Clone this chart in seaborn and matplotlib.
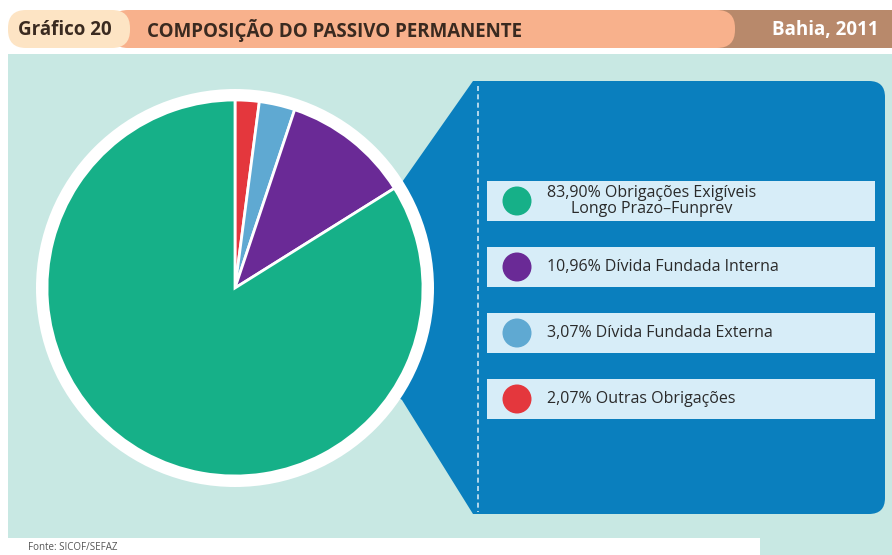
import matplotlib
matplotlib.use("Agg")
import matplotlib.pyplot as plt
import seaborn as sns
from matplotlib.patches import Rectangle, FancyBboxPatch, Circle, Polygon

# ---- data ----
categories = ["Outras Obrigações", "Dívida Fundada Externa", "Dívida Fundada Interna",
              "Obrigações Exigíveis\nLongo Prazo–Funprev"]
values = [2.07, 3.07, 10.96, 83.90]
colors = ["#e4373d", "#5fa9d2", "#6a2a96", "#16b088"]
legend_order = [3, 2, 1, 0]
title = "COMPOSIÇÃO DO PASSIVO PERMANENTE"
chart_no = "Gráfico 20"
place = "Bahia, 2011"
source = "Fonte: SICOF/SEFAZ"

sns.set_theme(style="white")
plt.rcParams["font.family"] = ["Open Sans", "DejaVu Sans"]

W, H = 892, 555
fig = plt.figure(figsize=(W / 100, H / 100), dpi=100)
fig.patch.set_facecolor("white")
ax = fig.add_axes([0, 0, 1, 1])
ax.set_axis_off()

# header
ax.add_patch(Rectangle((715, 10), 177, 38, fc="#b8896b", ec="none", zorder=1))
ax.add_patch(FancyBboxPatch((110, 10), 625, 38, boxstyle="round,pad=0,rounding_size=18",
                            fc="#f8b18c", ec="none", zorder=2))
ax.add_patch(FancyBboxPatch((8, 10), 122, 38, boxstyle="round,pad=0,rounding_size=18",
                            fc="#fde4c4", ec="none", zorder=3))
ax.text(18, 30, chart_no, fontsize=13.5, fontweight="bold", color="#3a2a20",
        va="center", ha="left", zorder=5)
ax.text(147, 30, title, fontsize=13.5, fontweight="bold", color="#3a2a20",
        va="center", ha="left", zorder=5)
ax.text(879, 30, place, fontsize=13.5, fontweight="bold", color="white",
        va="center", ha="right", zorder=5)

# mint background
ax.add_patch(Rectangle((8, 54), 884, 484, fc="#c8e8e3", ec="none", zorder=0))
ax.add_patch(FancyBboxPatch((8, 538), 752, 30, boxstyle="round,pad=0,rounding_size=10",
                            fc="white", ec="none", zorder=0.5))
ax.add_patch(Rectangle((760, 536), 132, 20, fc="#c8e8e3", ec="none", zorder=0.4))
ax.text(28, 547, source, fontsize=7, color="#555555", va="center", ha="left", zorder=5)

# pie geometry
cx, cy, r = 235, 288, 188

# blue panel + connector
blue = "#0a7fbe"
ax.add_patch(FancyBboxPatch((473, 81), 412, 433, boxstyle="round,pad=0,rounding_size=16",
                            fc=blue, ec="none", zorder=1))
ax.add_patch(Rectangle((473, 81), 60, 433, fc=blue, ec="none", zorder=1))
ax.add_patch(Polygon([(cx, cy), (400, 185), (473, 81), (473, 514), (402, 400)], closed=True,
                     fc=blue, ec="none", zorder=1))
ax.plot([478, 478], [86, 512], color="#cfe6f3", lw=1.2, ls=(0, (3, 2)), zorder=2)

# pie
ax.add_patch(Circle((cx, cy), r + 11, fc="white", ec="none", zorder=2))
wedges, _ = ax.pie(values, colors=colors, startangle=-90, counterclock=True,
                   center=(cx, cy), radius=r,
                   wedgeprops=dict(edgecolor="white", linewidth=2))
for w in wedges:
    w.set_zorder(3)

# legend rows
rows_y = [201, 267, 333, 399]
for row, idx in zip(rows_y, legend_order):
    ax.add_patch(Rectangle((487, row - 20), 388, 40, fc="#d7edf8", ec="none", zorder=3))
    ax.add_patch(Circle((517, row), 14.5, fc=colors[idx], ec="none", zorder=4))
    label = f"{values[idx]:.2f}".replace(".", ",") + "% " + categories[idx]
    ax.text(547, row, label, fontsize=11.5, color="#2a2a2a", va="center", ha="left",
            multialignment="center", linespacing=0.95, zorder=5)

ax.set_xlim(0, W)
ax.set_ylim(H, 0)
ax.set_aspect("equal")
fig.savefig("out.png", dpi=100)
